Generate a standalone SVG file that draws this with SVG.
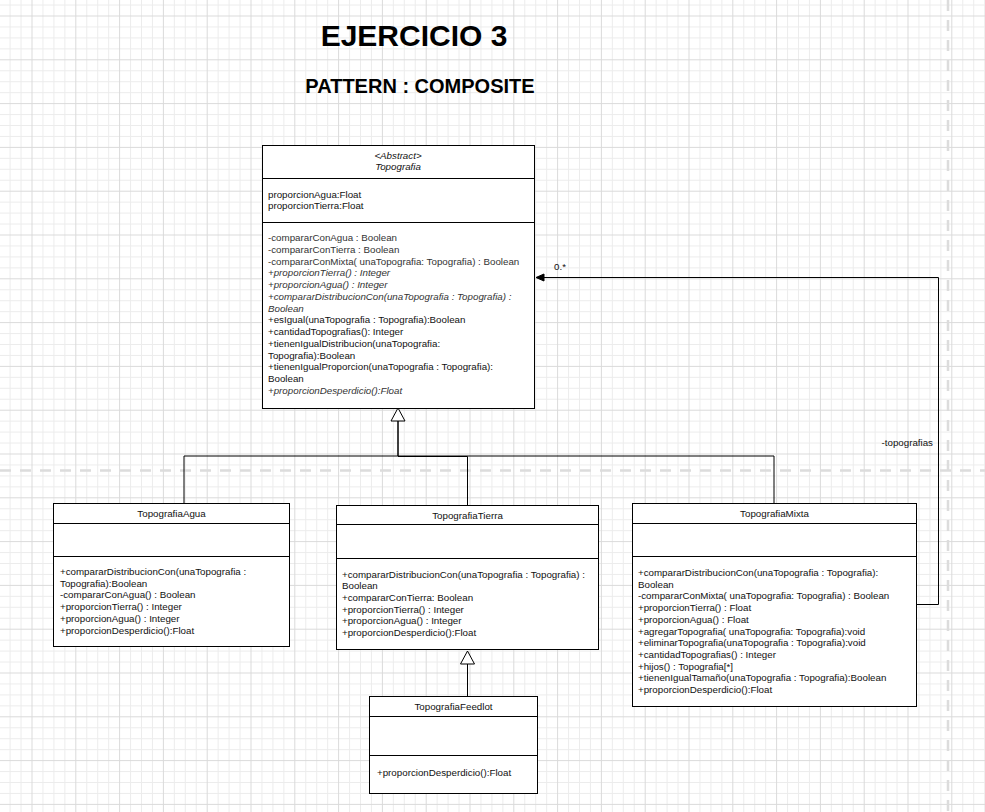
<svg xmlns="http://www.w3.org/2000/svg" width="985" height="812" viewBox="0 0 985 812">
<defs>
<pattern id="grid" patternUnits="userSpaceOnUse" x="31.5" y="15.5" width="43.8" height="43.8">
<path d="M11.45 0V43.8M22.4 0V43.8M33.35 0V43.8M0 11.45H43.8M0 22.4H43.8M0 33.35H43.8" stroke="#ececec" stroke-width="1" fill="none"/>
<path d="M0.5 0V43.8M0 0.5H43.8" stroke="#dadada" stroke-width="1" fill="none"/>
</pattern>
<marker id="gen" markerUnits="userSpaceOnUse" markerWidth="16" markerHeight="16" refX="0" refY="7" orient="auto" overflow="visible">
<path d="M0 0 L13 7 L0 14 Z" fill="#fff" stroke="#000" stroke-width="1"/>
</marker>
<marker id="arr" markerUnits="userSpaceOnUse" markerWidth="10" markerHeight="10" refX="0" refY="3.5" orient="auto" overflow="visible">
<path d="M0 0 L8 3.5 L0 7 Z" fill="#000" stroke="#000" stroke-width="1"/>
</marker>
<style>
.box{fill:#fff;stroke:#000;stroke-width:1}
.div{stroke:#000;stroke-width:1}
.t{font-family:"Liberation Sans",Arial,sans-serif;font-size:9.75px;fill:#111}
.c{text-anchor:middle}
.i{font-style:italic}
.g{fill:#333}
.ttl{font-family:"Liberation Sans",Arial,sans-serif;font-weight:bold;text-anchor:middle;fill:#000}
.con{fill:none;stroke:#000;stroke-width:1}
.pb{fill:none;stroke:#dcdcdc;stroke-width:2.5;stroke-dasharray:11 9}
</style>
</defs>
<rect width="985" height="812" fill="#fff"/>
<rect width="985" height="812" fill="url(#grid)"/>
<path class="pb" d="M0 470.5H985"/>
<path class="pb" d="M948 0V812"/>

<g id="titles">
<text class="ttl" x="414" y="46" font-size="30">EJERCICIO 3</text>
<text class="ttl" x="420" y="93" font-size="20">PATTERN : COMPOSITE</text>
</g>

<g id="connectors">
<path class="con" d="M184 503V456H398V421" marker-end="url(#gen)"/>
<path class="con" d="M774 503V456H398V421"/>
<path class="con" d="M467.5 505V456.5H398"/>
<path class="con" d="M467.5 696V664" marker-end="url(#gen)"/>
<path class="con" d="M916.5 604.5H938.5V277.5H544" marker-end="url(#arr)" stroke="#222"/>
<text class="t" x="554" y="270">0.*</text>
<text class="t" x="933" y="445.5" text-anchor="end">-topografias</text>
</g>

<g id="Topografia">
<rect class="box" x="262.5" y="145.5" width="272" height="263"/>
<path class="div" d="M262.5 178.5H534.5M262.5 222.5H534.5"/>
<text class="t c i" x="398" y="158.5">&lt;Abstract&gt;</text>
<text class="t c i" x="398" y="170">Topografia</text>
<text class="t" x="268" y="197.5">proporcionAgua:Float</text>
<text class="t" x="268" y="209">proporcionTierra:Float</text>
<text class="t g" x="268" y="241">-compararConAgua : Boolean</text>
<text class="t g" x="268" y="252.75">-compararConTierra : Boolean</text>
<text class="t g" x="268" y="264.5">-compararConMixta( unaTopografia: Topografia) : Boolean</text>
<text class="t g i" x="268" y="276.25">+proporcionTierra() : Integer</text>
<text class="t g i" x="268" y="288">+proporcionAgua() : Integer</text>
<text class="t g i" x="268" y="299.75">+compararDistribucionCon(unaTopografia : Topografia) :</text>
<text class="t g i" x="268" y="311.5">Boolean</text>
<text class="t" x="268" y="323.25">+esIgual(unaTopografia : Topografia):Boolean</text>
<text class="t" x="268" y="335">+cantidadTopografias(): Integer</text>
<text class="t" x="268" y="346.75">+tienenIgualDistribucion(unaTopografia:</text>
<text class="t" x="268" y="358.5">Topografia):Boolean</text>
<text class="t" x="268" y="370.25">+tienenIgualProporcion(unaTopografia : Topografia):</text>
<text class="t" x="268" y="382">Boolean</text>
<text class="t g i" x="268" y="393.75">+proporcionDesperdicio():Float</text>
</g>

<g id="TopografiaAgua">
<rect class="box" x="53.5" y="503.5" width="236" height="143"/>
<path class="div" d="M53.5 523.5H289.5M53.5 556.5H289.5"/>
<text class="t c" x="171.5" y="517">TopografiaAgua</text>
<text class="t" x="60" y="575">+compararDistribucionCon(unaTopografia :</text>
<text class="t" x="60" y="586.7">Topografia):Boolean</text>
<text class="t" x="60" y="598.4">-compararConAgua() : Boolean</text>
<text class="t" x="60" y="610.1">+proporcionTierra() : Integer</text>
<text class="t" x="60" y="621.8">+proporcionAgua() : Integer</text>
<text class="t" x="60" y="633.5">+proporcionDesperdicio():Float</text>
</g>

<g id="TopografiaTierra">
<rect class="box" x="336.5" y="505.5" width="262" height="144"/>
<path class="div" d="M336.5 524.5H598.5M336.5 558.5H598.5"/>
<text class="t c" x="467.5" y="518.5">TopografiaTierra</text>
<text class="t" x="342" y="577.5">+compararDistribucionCon(unaTopografia : Topografia) :</text>
<text class="t" x="342" y="589.2">Boolean</text>
<text class="t" x="342" y="600.9">+compararConTierra: Boolean</text>
<text class="t" x="342" y="612.6">+proporcionTierra() : Integer</text>
<text class="t" x="342" y="624.3">+proporcionAgua() : Integer</text>
<text class="t" x="342" y="636">+proporcionDesperdicio():Float</text>
</g>

<g id="TopografiaMixta">
<rect class="box" x="632.5" y="503.5" width="284" height="203"/>
<path class="div" d="M632.5 523.5H916.5M632.5 556.5H916.5"/>
<text class="t c" x="774.5" y="517">TopografiaMixta</text>
<text class="t" x="638" y="576">+compararDistribucionCon(unaTopografia : Topografia):</text>
<text class="t" x="638" y="587.7">Boolean</text>
<text class="t" x="638" y="599.4">-compararConMixta( unaTopografia: Topografia) : Boolean</text>
<text class="t" x="638" y="611.1">+proporcionTierra() : Float</text>
<text class="t" x="638" y="622.8">+proporcionAgua() : Float</text>
<text class="t" x="638" y="634.5">+agregarTopografia( unaTopografia: Topografia):void</text>
<text class="t" x="638" y="646.2">+eliminarTopografia(unaTopografia : Topografia):void</text>
<text class="t" x="638" y="657.9">+cantidadTopografias() : Integer</text>
<text class="t" x="638" y="669.6">+hijos() : Topografia[*]</text>
<text class="t" x="638" y="681.3">+tienenIgualTamaño(unaTopografia : Topografia):Boolean</text>
<text class="t" x="638" y="693">+proporcionDesperdicio():Float</text>
</g>

<g id="TopografiaFeedlot">
<rect class="box" x="369.5" y="696.5" width="168" height="97"/>
<path class="div" d="M369.5 716.5H537.5M369.5 755.5H537.5"/>
<text class="t c" x="453.5" y="709.5">TopografiaFeedlot</text>
<text class="t" x="377" y="776">+proporcionDesperdicio():Float</text>
</g>
</svg>
